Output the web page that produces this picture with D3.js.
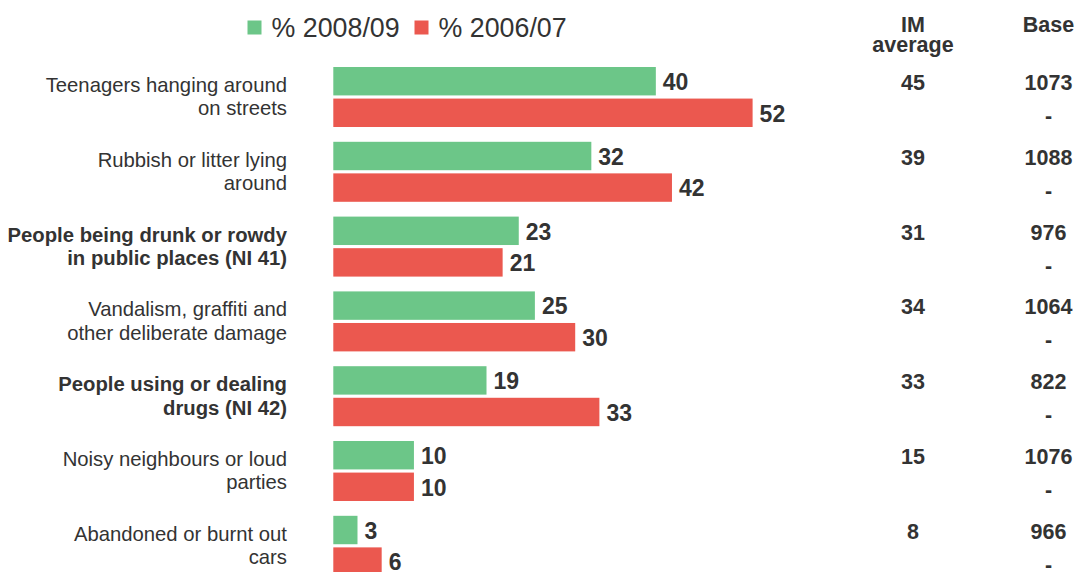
<!DOCTYPE html>
<html>
<head>
<meta charset="utf-8">
<script src="https://cdn.jsdelivr.net/npm/d3@7"></script>
<style>
  html, body { margin: 0; padding: 0; background: #fff; }
  svg { display: block; font-family: "Liberation Sans", Arial, Helvetica, sans-serif; }
</style>
</head>
<body>
<svg id="chart" width="1079" height="572"></svg>
<script>
// Anti-social behaviour perceptions: % seeing each issue as a problem
const categories = [
  ["Teenagers hanging around", "on streets"],
  ["Rubbish or litter lying", "around"],
  ["People being drunk or rowdy", "in public places (NI 41)"],
  ["Vandalism, graffiti and", "other deliberate damage"],
  ["People using or dealing", "drugs (NI 42)"],
  ["Noisy neighbours or loud", "parties"],
  ["Abandoned or burnt out", "cars"]
];
const boldCategories = [false, false, true, false, true, false, false];
const seriesNames = ["% 2008/09", "% 2006/07"];
const values2008 = [40, 32, 23, 25, 19, 10, 3];
const values2006 = [52, 42, 21, 30, 33, 10, 6];
const imAverage = [45, 39, 31, 34, 33, 15, 8];
const baseCounts = [1073, 1088, 976, 1064, 822, 1076, 966];
const baseCountsPrev = ["-", "-", "-", "-", "-", "-", "-"];
const colors = ["#6cc688", "#eb584f"];
const textColor = "#333333";

const svg = d3.select("#chart");
const ids = categories.map((d, i) => i);

// Scales
const y = d3.scaleBand().domain(ids).range([67, 575.8]).paddingInner(0.198).paddingOuter(0);
const ySub = d3.scaleBand().domain([0, 1]).range([0, y.bandwidth()]).paddingInner(0.1);
const x = d3.scaleLinear().domain([0, 52]).range([333.3, 752.6]);

const rows = ids.map(i => ({ i, vals: [values2008[i], values2006[i]] }));

const groups = svg.selectAll("g.row").data(rows).join("g")
  .attr("class", "row")
  .attr("transform", d => `translate(0,${y(d.i)})`);

// Bars
groups.selectAll("rect").data(d => d.vals.map((v, s) => ({ v, s }))).join("rect")
  .attr("x", x(0))
  .attr("y", d => ySub(d.s))
  .attr("width", d => x(d.v) - x(0))
  .attr("height", ySub.bandwidth())
  .attr("fill", d => colors[d.s]);

// Value labels
groups.selectAll("text.val").data(d => d.vals.map((v, s) => ({ v, s }))).join("text")
  .attr("class", "val")
  .attr("x", d => x(d.v) + 7)
  .attr("y", d => ySub(d.s) + ySub.bandwidth() / 2 + 8.8)
  .attr("font-size", 23)
  .attr("font-weight", "bold")
  .attr("fill", textColor)
  .text(d => d.v);

// Category labels
groups.append("text")
  .attr("text-anchor", "end")
  .attr("font-size", 20.3)
  .attr("font-weight", d => boldCategories[d.i] ? "bold" : "normal")
  .attr("fill", textColor)
  .selectAll("tspan").data(d => categories[d.i]).join("tspan")
  .attr("x", 287)
  .attr("y", (t, k) => 25 + k * 23.3)
  .text(t => t);

// IM average column
const imX = 913, baseX = 1048.5;
groups.append("text")
  .attr("x", imX).attr("y", 23)
  .attr("text-anchor", "middle")
  .attr("font-size", 21.5).attr("font-weight", "bold")
  .attr("fill", textColor)
  .text(d => imAverage[d.i]);

// Base column
groups.append("text")
  .attr("x", baseX).attr("y", 23)
  .attr("text-anchor", "middle")
  .attr("font-size", 21.5).attr("font-weight", "bold")
  .attr("fill", textColor)
  .text(d => baseCounts[d.i]);
groups.append("text")
  .attr("x", baseX).attr("y", 56)
  .attr("text-anchor", "middle")
  .attr("font-size", 21.5).attr("font-weight", "bold")
  .attr("fill", textColor)
  .text(d => baseCountsPrev[d.i]);

// Column headers
const header = svg.append("g").attr("fill", textColor)
  .attr("font-size", 21.5).attr("font-weight", "bold").attr("text-anchor", "middle");
header.append("text").attr("x", imX).attr("y", 31.5).text("IM");
header.append("text").attr("x", imX).attr("y", 52).text("average");
header.append("text").attr("x", baseX).attr("y", 31.5).text("Base");

// Legend
const legendX = [247.5, 414.5];
const legend = svg.append("g").selectAll("g").data(seriesNames).join("g")
  .attr("transform", (d, s) => `translate(${legendX[s]},0)`);
legend.append("rect")
  .attr("x", 0).attr("y", 20.5).attr("width", 14).attr("height", 14)
  .attr("fill", (d, s) => colors[s]);
legend.append("text")
  .attr("x", 24).attr("y", 36.5)
  .attr("font-size", 26.8)
  .attr("fill", textColor)
  .text(d => d);
</script>
</body>
</html>
